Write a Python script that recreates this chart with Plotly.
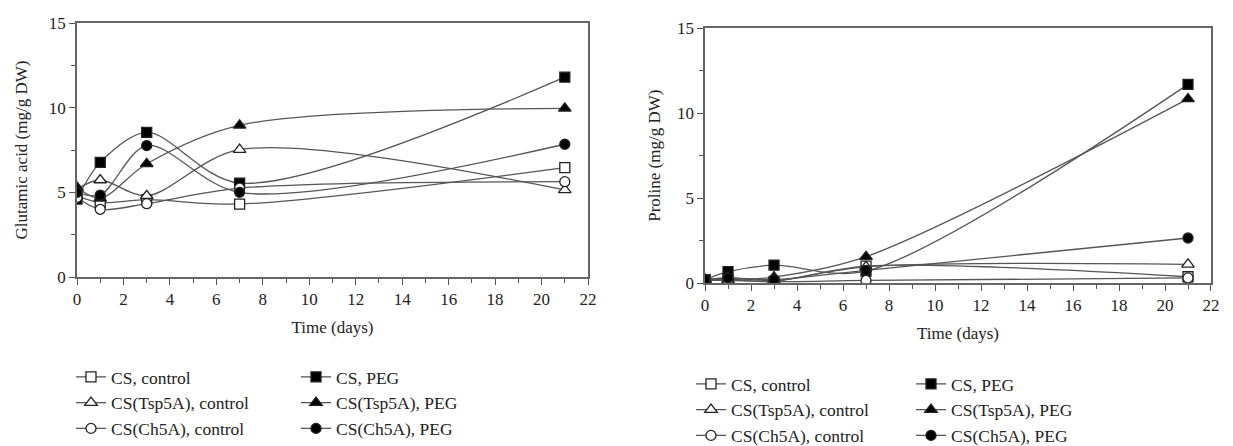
import plotly.graph_objects as go

days = [0, 1, 3, 7, 21]

series_names = ["CS, control", "CS, PEG",
                "CS(Tsp5A), control", "CS(Tsp5A), PEG",
                "CS(Ch5A), control", "CS(Ch5A), PEG"]

# Glutamic acid (mg/g DW)
glu_cs_control = [4.8, 4.4, 4.57, 4.31, 6.46]
glu_cs_peg = [4.6, 6.77, 8.54, 5.55, 11.8]
glu_tsp_control = [5.2, 5.73, 4.8, 7.52, 5.14]
glu_tsp_peg = [5.3, 4.65, 6.69, 8.96, 9.96]
glu_ch_control = [4.7, 4.0, 4.33, 5.25, 5.63]
glu_ch_peg = [5.0, 4.84, 7.76, 5.0, 7.84]

# Proline (mg/g DW)
pro_cs_control = [0.2, 0.2, 0.1, 1.0, 0.37]
pro_cs_peg = [0.2, 0.67, 1.05, 0.7, 11.7]
pro_tsp_control = [0.2, 0.3, 0.15, 0.95, 1.1]
pro_tsp_peg = [0.2, 0.2, 0.35, 1.55, 10.84]
pro_ch_control = [0.15, 0.15, 0.08, 0.15, 0.3]
pro_ch_peg = [0.2, 0.3, 0.2, 0.75, 2.65]

glu = [glu_cs_control, glu_cs_peg, glu_tsp_control, glu_tsp_peg, glu_ch_control, glu_ch_peg]
pro = [pro_cs_control, pro_cs_peg, pro_tsp_control, pro_tsp_peg, pro_ch_control, pro_ch_peg]

symbols = ["square", "square", "triangle-up", "triangle-up", "circle", "circle"]
fills = ["white", "black", "white", "black", "white", "black"]

LINE = "#555555"
FONT = "'Liberation Serif', 'DejaVu Serif', 'Times New Roman', serif"

# page body has an 8 px default margin, so the figure is 8 px smaller than the window
W, H = 1225, 438

fig = go.Figure()

def add(ys, name, sym, fill, xa, ya, legend):
    fig.add_trace(go.Scatter(
        x=days, y=ys, name=name, mode="lines+markers",
        line=dict(color=LINE, width=1.3, shape="spline", smoothing=0.9),
        marker=dict(symbol=sym, size=11 if sym == "triangle-up" else 10,
                    color=fill, line=dict(color="#222222", width=1.3)),
        xaxis=xa, yaxis=ya, legend=legend,
    ))

# left: controls -> legend, PEG -> legend2 ; right: controls -> legend3, PEG -> legend4
for i in range(6):
    add(glu[i], series_names[i], symbols[i], fills[i], "x", "y", "legend" if i % 2 == 0 else "legend2")
for i in range(6):
    add(pro[i], series_names[i], symbols[i], fills[i], "x2", "y2", "legend3" if i % 2 == 0 else "legend4")

axis_common = dict(
    showline=True, linecolor="#666666", linewidth=1.5, mirror=True,
    ticks="outside", ticklen=6, tickwidth=1.3, tickcolor="#555555",
    showgrid=False, zeroline=False,
    tickfont=dict(family=FONT, size=17, color="#222222"),
)

xticks = dict(range=[0, 22], tickmode="linear", tick0=0, dtick=2,
              minor=dict(ticks="outside", ticklen=4, dtick=1, tickcolor="#555555", tickwidth=1.2))
yticks = dict(range=[0, 15], tickmode="linear", tick0=0, dtick=5,
              minor=dict(ticks="outside", ticklen=4, dtick=2.5, tickcolor="#555555", tickwidth=1.2))

TF = dict(family=FONT, size=17, color="#222222")

fig.update_layout(
    width=W, height=H,
    margin=dict(l=0, r=0, t=0, b=0, autoexpand=False),
    paper_bgcolor="white", plot_bgcolor="white",
    font=dict(family=FONT, color="#222222"),
    xaxis=dict(domain=[0.05633, 0.4735], anchor="y",
               title=dict(text="Time (days)", font=TF, standoff=13),
               **xticks, **axis_common),
    yaxis=dict(domain=[0.3858, 0.96575], anchor="x",
               title=dict(text="Glutamic acid (mg/g DW)", font=TF, standoff=17),
               **yticks, **axis_common),
    xaxis2=dict(domain=[0.569, 0.98204], anchor="y2",
                title=dict(text="Time (days)", font=TF, standoff=13),
                **xticks, **axis_common),
    yaxis2=dict(domain=[0.3721, 0.95365], anchor="x2",
                title=dict(text="Proline (mg/g DW)", font=TF, standoff=12),
                **yticks, **axis_common),
)

leg_common = dict(orientation="v", xanchor="left", yanchor="top", bgcolor="rgba(0,0,0,0)",
                  font=dict(family=FONT, size=17.5, color="#222222"), itemwidth=30,
                  tracegroupgap=0)
fig.update_layout(
    legend=dict(x=63 / W, y=1 - 351 / H, **leg_common),
    legend2=dict(x=288 / W, y=1 - 351 / H, **leg_common),
    legend3=dict(x=683 / W, y=1 - 358 / H, **leg_common),
    legend4=dict(x=903 / W, y=1 - 358 / H, **leg_common),
)

fig.write_html("out.html")
